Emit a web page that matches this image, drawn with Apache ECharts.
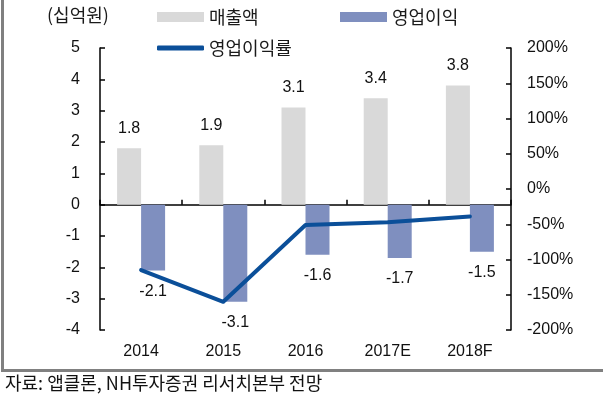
<!DOCTYPE html>
<html>
<head>
<meta charset="utf-8">
<script src="https://cdn.jsdelivr.net/npm/echarts@6/dist/echarts.min.js"></script>
<style>
html,body{margin:0;padding:0;background:#fff;}
#chart{width:603px;height:409px;}
</style>
</head>
<body>
<div id="chart"></div>
<script>
var categories = ['2014', '2015', '2016', '2017E', '2018F'];
var sales = [1.8, 1.9, 3.1, 3.4, 3.8];
var operatingProfit = [-2.1, -3.1, -1.6, -1.7, -1.5];
var operatingMargin = [-115, -160, -51, -47, -39];
var leftTicks = {min: -4, max: 5, interval: 1};
var rightTicks = {min: -200, max: 200, interval: 50};

var NUM_FONT = "'Liberation Sans Narrow','Arial Narrow','Liberation Sans',Arial,sans-serif";
var KR_FONT = "'Noto Sans CJK KR','Noto Sans',sans-serif";

var chart = echarts.init(document.getElementById('chart'), null, {renderer: 'canvas'});

var option = {
  backgroundColor: '#ffffff',
  animation: false,
  grid: {left: 100, right: 92, top: 48, bottom: 79},
  legend: [
    {data: [{name: '매출액', icon: 'rect', itemStyle: {color: '#d9d9d9'}}],
     left: 157, top: 8, padding: 0, itemWidth: 47, itemHeight: 10, itemGap: 6,
     textStyle: {fontFamily: KR_FONT, fontSize: 18, color: '#1a1a1a'}},
    {data: [{name: '영업이익', icon: 'rect', itemStyle: {color: '#7f8fbf'}}],
     left: 340, top: 8, padding: 0, itemWidth: 47, itemHeight: 10, itemGap: 6,
     textStyle: {fontFamily: KR_FONT, fontSize: 18, color: '#1a1a1a'}},
    {data: [{name: '영업이익률', icon: 'roundRect', itemStyle: {color: '#0b4f99'}}],
     left: 157, top: 39, padding: 0, itemWidth: 47, itemHeight: 5, itemGap: 6,
     textStyle: {fontFamily: KR_FONT, fontSize: 18, color: '#1a1a1a'}}
  ],
  xAxis: [
    {
      type: 'category', data: categories, position: 'top',
      axisLine: {onZero: true, onZeroAxisIndex: 0, lineStyle: {color: '#000', width: 1.5}},
      axisTick: {show: true, inside: false, length: 5, lineStyle: {color: '#000', width: 1.5}},
      axisLabel: {show: false}, splitLine: {show: false}
    },
    {
      type: 'category', data: categories, position: 'bottom',
      axisLine: {show: false, onZero: false}, axisTick: {show: false},
      axisLabel: {show: true, margin: 14, fontFamily: NUM_FONT, fontSize: 16, color: '#111'},
      splitLine: {show: false}
    }
  ],
  yAxis: [
    {
      type: 'value', position: 'left', min: leftTicks.min, max: leftTicks.max, interval: leftTicks.interval,
      axisLine: {show: true, lineStyle: {color: '#000', width: 1.5}},
      axisTick: {show: true, inside: true, length: 5, lineStyle: {color: '#000', width: 1.5}},
      axisLabel: {margin: 20, fontFamily: NUM_FONT, fontSize: 16, color: '#111'},
      splitLine: {show: false}
    },
    {
      type: 'value', position: 'right', min: rightTicks.min, max: rightTicks.max, interval: rightTicks.interval,
      axisLine: {show: true, lineStyle: {color: '#000', width: 1.5}},
      axisTick: {show: true, inside: true, length: 5, lineStyle: {color: '#000', width: 1.5}},
      axisLabel: {margin: 16, fontFamily: NUM_FONT, fontSize: 16, color: '#111', formatter: '{value}%'},
      splitLine: {show: false}
    }
  ],
  series: [
    {
      name: '매출액', type: 'bar', xAxisIndex: 1, yAxisIndex: 0, data: sales,
      barWidth: 24, barGap: '0%',
      itemStyle: {color: '#d9d9d9'},
      label: {show: true, position: 'top', distance: 12, fontFamily: NUM_FONT, fontSize: 16, color: '#111'}
    },
    {
      name: '영업이익', type: 'bar', xAxisIndex: 1, yAxisIndex: 0, data: operatingProfit,
      barWidth: 24, barGap: '0%',
      itemStyle: {color: '#7f8fbf'},
      label: {show: true, position: 'outside', distance: 13, fontFamily: NUM_FONT, fontSize: 16, color: '#111'}
    },
    {
      name: '영업이익률', type: 'line', xAxisIndex: 1, yAxisIndex: 1, data: operatingMargin,
      symbol: 'none', z: 5,
      lineStyle: {color: '#0b4f99', width: 4, cap: 'round', join: 'round'},
      itemStyle: {color: '#0b4f99'}
    }
  ],
  graphic: [
    {type: 'text', left: 47, top: 6, style: {text: '(십억원)', fontFamily: KR_FONT, fontSize: 18, fill: '#1a1a1a'}},
    {type: 'rect', shape: {x: 1, y: 0, width: 3, height: 372}, style: {fill: '#808080'}, silent: true},
    {type: 'rect', shape: {x: 1, y: 369, width: 602, height: 3}, style: {fill: '#808080'}, silent: true},
    {type: 'text', left: 5, top: 374, style: {text: '자료: 앱클론, NH투자증권 리서치본부 전망', fontFamily: KR_FONT, fontSize: 18, fill: '#111'}}
  ]
};
chart.setOption(option);
</script>
</body>
</html>
